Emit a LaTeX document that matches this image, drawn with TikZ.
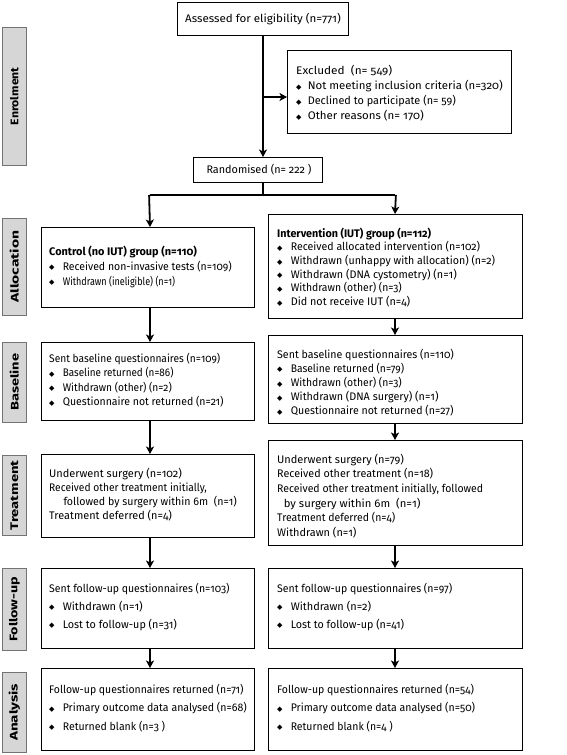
\documentclass[tikz,border=0pt]{standalone}
\usepackage{fontspec}
\usepackage{graphicx}
\setmainfont{Fira Sans}[Numbers=OldStyle]
\newfontfamily\symf{DejaVu Sans}
\usetikzlibrary{arrows.meta}
\newlength\fitlen
\newcommand{\fitto}[2]{\settowidth{\fitlen}{#2}\scalebox{\fpeval{#1/\the\fitlen}}[1]{#2}}
\newcommand{\bul}[1][13.6]{\makebox[#1pt][l]{\symf\fontsize{7}{7}\selectfont\raisebox{0.4pt}{◆}}}
\tikzset{
  x=1pt, y=-1pt,
  box/.style={draw, line width=0.9pt, anchor=north west, inner sep=0pt},
  txt/.style={anchor=north west, inner sep=0pt, align=left},
  lab/.style={draw=black!55, line width=0.6pt, fill=black!16, anchor=north west, inner sep=0pt},
  labtxt/.style={rotate=90, font=\bfseries\fontsize{11}{11}\selectfont},
  conn/.style={line width=1.8pt},
  arr/.style={line width=1.8pt, -{Stealth[length=7.5pt,width=8pt,inset=2pt]}},
  fs/.style={font=\fontsize{11}{#1}\selectfont},
}
\newcommand{\labelbox}[5]{% name, top, bottom, text, width
  \fill[black!60] (3.3,#2+1.3) rectangle (27.3,#3+1.3);
  \node[lab, minimum width=24pt, minimum height=#3-#2] (#1) at (2,#2) {};
  \node[labtxt] (#1t) at (#1.center) {\fitto{#5}{#4}};
}
\begin{document}
\begin{tikzpicture}
\useasboundingbox (0,0) rectangle (567,755);
\fill[white] (0,0) rectangle (567,755);

% stage labels
\labelbox{lEn}{27}{165}{Enrolment}{58}
\labelbox{lAl}{218}{315}{Allocation}{72}
\labelbox{lBa}{342}{422}{Baseline}{57}
\labelbox{lTr}{455}{535}{Treatment}{70}
\labelbox{lFo}{568}{650}{Follow-up}{65}
\labelbox{lAn}{672}{752}{Analysis}{57}

% enrolment
\node[box, minimum width=171pt, minimum height=33pt] (assess) at (177,2) {};
\node[fs=13] (assesst) at (assess.center) {\fitto{155.6}{Assessed for eligibility (n=771)}};
\node[box, minimum width=224pt, minimum height=83pt] (excl) at (287,50) {};
\node[txt, fs=15] (exclt) at (296,65.5) {\fitto{96}{Excluded~~(n=~549)}\\
\bul[11.6]\fitto{195}{Not meeting inclusion criteria (n=320)}\\
\bul[11.6]\fitto{148}{Declined to participate (n=~59)}\\
\bul[11.6]\fitto{116}{Other reasons (n=~170)}};
\node[box, minimum width=129pt, minimum height=25pt] (rand) at (193,157) {};
\node[fs=13] (randt) at (259,169.5) {\fitto{105}{Randomised (n=~222~)}};

% allocation
\node[box, minimum width=213pt, minimum height=80pt] (ctrlA) at (41,227) {};
\node[txt, fs=15] (ctrlAt) at (49,245.5) {\fitto{147.7}{\bfseries Control (no IUT) group (n=110)}\\
\bul\fitto{169}{Received non-invasive tests (n=109)}\\
\bul\fitto{112.3}{Withdrawn (ineligible) (n=1)}};
\node[box, minimum width=254pt, minimum height=104pt] (iutA) at (268,214) {};
\node[txt, fs=13.7] (iutAt) at (277,227.5) {\fitto{154}{\bfseries Intervention (IUT) group (n=112)}\\
\bul\fitto{189.3}{Received allocated intervention (n=102)}\\
\bul\fitto{204.3}{Withdrawn (unhappy with allocation) (n=2)}\\
\bul\fitto{166}{Withdrawn (DNA cystometry) (n=1)}\\
\bul\fitto{111}{Withdrawn (other) (n=3)}\\
\bul\fitto{119.3}{Did not receive IUT (n=4)}};

% baseline
\node[box, minimum width=213pt, minimum height=78pt] (ctrlB) at (41,342) {};
\node[txt, fs=14.6] (ctrlBt) at (49,352.5) {\fitto{171}{Sent baseline questionnaires (n=109)}\\
\bul\fitto{110.7}{Baseline returned (n=86)}\\
\bul\fitto{109}{Withdrawn (other) (n=2)}\\
\bul\fitto{160.7}{Questionnaire not returned (n=21)}};
\node[box, minimum width=254pt, minimum height=88pt] (iutB) at (268,335) {};
\node[txt, fs=14.2] (iutBt) at (277,348.5) {\fitto{176.7}{Sent baseline questionnaires (n=110)}\\
\bul\fitto{113.3}{Baseline returned (n=79)}\\
\bul\fitto{111}{Withdrawn (other) (n=3)}\\
\bul\fitto{147.7}{Withdrawn (DNA surgery) (n=1)}\\
\bul\fitto{162.7}{Questionnaire not returned (n=27)}};

% treatment
\node[box, minimum width=213pt, minimum height=83pt] (ctrlT) at (41,454) {};
\node[txt, fs=14.3] (ctrlTt) at (49,467.5) {\fitto{132.7}{Underwent surgery (n=102)}\\
\fitto{157.7}{Received other treatment initially,}\\
\hspace*{14.3pt}\fitto{173.3}{followed by surgery within 6m~~(n=1)}\\
\fitto{122.7}{Treatment deferred (n=4)}};
\node[box, minimum width=254pt, minimum height=105pt] (iutT) at (268,440) {};
\node[txt, fs=14.7] (iutTt) at (277,453.5) {\fitto{126.7}{Underwent surgery (n=79)}\\
\fitto{156}{Received other treatment (n=18)}\\
\fitto{206}{Received other treatment initially, followed}\\
\hspace*{6.6pt}\fitto{136.7}{by surgery within 6m~~(n=1)}\\
\fitto{118}{Treatment deferred (n=4)}\\
\fitto{79.3}{Withdrawn (n=1)}};

% follow-up
\node[box, minimum width=213pt, minimum height=80pt] (ctrlF) at (41,568) {};
\node[txt, fs=18] (ctrlFt) at (49,582.5) {\fitto{180.3}{Sent follow-up questionnaires (n=103)}\\
\bul\fitto{80}{Withdrawn (n=1)}\\
\bul\fitto{114}{Lost to follow-up (n=31)}};
\node[box, minimum width=254pt, minimum height=80pt] (iutF) at (268,568) {};
\node[txt, fs=18] (iutFt) at (277,582.5) {\fitto{175}{Sent follow-up questionnaires (n=97)}\\
\bul\fitto{80.3}{Withdrawn (n=2)}\\
\bul\fitto{113.3}{Lost to follow-up (n=41)}};

% analysis
\node[box, minimum width=213pt, minimum height=82pt] (ctrlAn) at (41,668) {};
\node[txt, fs=18.5] (ctrlAnt) at (49,683.5) {\fitto{194.3}{Follow-up questionnaires returned (n=71)}\\
\bul\fitto{184}{Primary outcome data analysed (n=68)}\\
\bul\fitto{102.3}{Returned blank (n=3~)}};
\node[box, minimum width=254pt, minimum height=82pt] (iutAn) at (268,668) {};
\node[txt, fs=18.5] (iutAnt) at (277,683.5) {\fitto{196.7}{Follow-up questionnaires returned (n=54)}\\
\bul\fitto{184.3}{Primary outcome data analysed (n=50)}\\
\bul\fitto{102}{Returned blank (n=4~)}};

% connectors
\coordinate (split) at (263,97);
\coordinate (fork) at (263,195);
\coordinate (cL) at (150,195);
\coordinate (cR) at (395,195);
\draw[arr] (assess.south -| split) -- (rand.north -| split);
\draw[arr] (split) -- (excl.west |- split);
\draw[conn] (rand.south -| fork) -- (fork);
\draw[conn] (cL) -- (cR);
\draw[arr] ([xshift=-0.9pt]cL) -- (ctrlA.north -| cL);
\draw[arr] ([xshift=0.9pt]cR) -- (iutA.north -| cR);
\draw[arr] (ctrlA.south -| cL) -- (ctrlB.north -| cL);
\draw[arr] (iutA.south -| cR) -- (iutB.north -| cR);
\draw[arr] (ctrlB.south -| cL) -- (ctrlT.north -| cL);
\draw[arr] (iutB.south -| cR) -- (iutT.north -| cR);
\draw[arr] (ctrlT.south -| cL) -- (ctrlF.north -| cL);
\draw[arr] (iutT.south -| cR) -- (iutF.north -| cR);
\draw[arr] (ctrlF.south -| cL) -- (ctrlAn.north -| cL);
\draw[arr] (iutF.south -| cR) -- (iutAn.north -| cR);
\end{tikzpicture}
\end{document}
